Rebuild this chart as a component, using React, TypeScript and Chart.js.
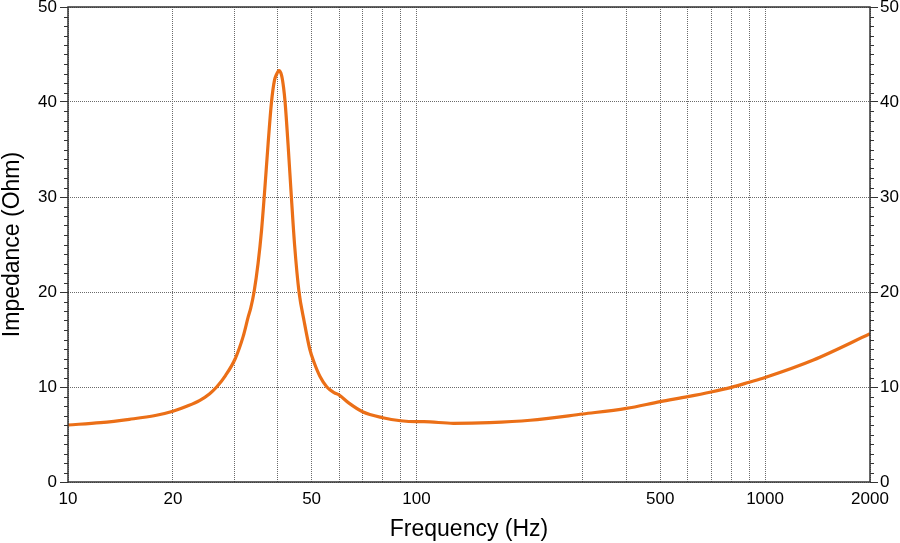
import React, { useEffect, useRef } from "react";
import { Chart, registerables } from "chart.js";

Chart.register(...registerables);

const frequencies = [
  10, 12.4, 15, 17.8, 20, 22, 23.9, 25.5, 26.7, 28.3, 30.2, 31.8, 32.9, 33.44, 34.18, 35.1, 35.92, 36.64,
  37.49, 38.36, 39.13, 39.65, 40.3, 41.0, 41.55, 41.96, 42.8, 43.74, 44.67, 46.01, 47.6, 49.38, 50.8, 52.85,
  55.3, 58, 60, 64, 70, 80, 90, 100, 105, 127.5, 162, 212, 300, 400, 500, 600, 700, 800, 900, 1000, 1376, 2000,
];
const impedance = [
  6.0, 6.25, 6.6, 7.0, 7.45, 8.0, 8.6, 9.3, 10.0, 11.2, 13.0, 15.3, 17.4, 18.3, 20.0, 23.0, 26.5, 30.5,
  35.5, 40.0, 42.3, 42.9, 43.3, 42.8, 41.5, 40.0, 35.5, 30.0, 25.0, 20.0, 16.9, 14.0, 12.6, 11.1,
  10.0, 9.4, 9.15, 8.3, 7.4, 6.77, 6.45, 6.35, 6.35, 6.18, 6.25, 6.5, 7.16, 7.75, 8.46, 8.98, 9.47, 9.96, 10.5,
  11.0, 12.84, 15.6,
];

const xGridValues = [10, 20, 30, 40, 50, 60, 70, 80, 90, 100, 300, 400, 500, 600, 700, 800, 900, 1000, 2000];
const xTickLabels = [10, 20, 50, 100, 500, 1000, 2000];
const yTickLabels = [0, 10, 20, 30, 40, 50];

const FONT = "'Liberation Sans', Arial, Helvetica, sans-serif";
const LINE_COLOR = "#eb6f17";
const AXIS_COLOR = "#333333";
const GRID_COLOR = "#6a6a6a";

const framePlugin = {
  id: "frameAndMinorTicks",
  afterDraw(chart: any) {
    const { ctx, chartArea: a } = chart;
    const y = chart.scales.y;
    ctx.save();
    ctx.strokeStyle = AXIS_COLOR;
    ctx.lineWidth = 1;
    for (let v = yTickLabels[0]; v <= yTickLabels[yTickLabels.length - 1]; v++) {
      if (yTickLabels.includes(v)) continue;
      const p = Math.round(y.getPixelForValue(v)) + 0.5;
      ctx.beginPath();
      ctx.moveTo(a.left - 4, p);
      ctx.lineTo(a.left, p);
      ctx.moveTo(a.right, p);
      ctx.lineTo(a.right + 4, p);
      ctx.stroke();
    }
    ctx.lineWidth = 1.5;
    ctx.strokeRect(a.left, a.top, a.right - a.left, a.bottom - a.top);
    ctx.restore();
  },
};

export default function App() {
  const canvasRef = useRef<HTMLCanvasElement | null>(null);

  useEffect(() => {
    document.body.style.margin = "0";
    const canvas = canvasRef.current;
    if (!canvas) return;
    const points = frequencies.map((f, i) => ({ x: f, y: impedance[i] }));

    const yCommon = {
      type: "linear" as const,
      min: 0,
      max: 50,
      border: { display: false, dash: [1, 1] },
      ticks: {
        stepSize: 10,
        color: "#000",
        font: { family: FONT, size: 17 },
        padding: 3,
        callback: (v: any) => (yTickLabels.includes(Number(v)) ? String(v) : ""),
      },
    };

    const chart = new Chart(canvas, {
      type: "line",
      data: {
        datasets: [
          {
            data: points,
            borderColor: LINE_COLOR,
            backgroundColor: LINE_COLOR,
            borderWidth: 3.2,
            pointRadius: 0,
            cubicInterpolationMode: "monotone",
            fill: false,
            yAxisID: "y",
          },
        ],
      },
      options: {
        animation: false,
        responsive: false,
        maintainAspectRatio: false,
        layout: { padding: { top: 7, left: 0, right: 0, bottom: 0 } },
        plugins: { legend: { display: false }, tooltip: { enabled: false } },
        scales: {
          x: {
            type: "logarithmic",
            min: 10,
            max: 2000,
            border: { display: false, dash: [1, 1] },
            grid: {
              color: GRID_COLOR,
              lineWidth: 1,
              drawTicks: false,
            },
            afterBuildTicks: (scale: any) => {
              scale.ticks = xGridValues.map((v) => ({ value: v }));
            },
            afterFit: (scale: any) => {
              scale.height = 61;
              scale.paddingLeft = 0;
              scale.paddingRight = 0;
            },
            ticks: {
              autoSkip: false,
              maxRotation: 0,
              minRotation: 0,
              color: "#000",
              font: { family: FONT, size: 17 },
              padding: 7,
              callback: (v: any) => (xTickLabels.includes(Number(v)) ? String(v) : ""),
            },
            title: {
              display: true,
              text: "Frequency (Hz)",
              color: "#000",
              font: { family: FONT, size: 23, lineHeight: 1.1 },
              padding: { top: 0, bottom: 1 },
            },
          },
          y: {
            ...yCommon,
            position: "left",
            grid: {
              color: GRID_COLOR,
              lineWidth: 1,
              drawTicks: true,
              tickLength: 8,
              tickColor: AXIS_COLOR,
            },
            afterFit: (scale: any) => {
              scale.width = 68;
              scale.paddingTop = 0;
              scale.paddingBottom = 0;
            },
            title: {
              display: true,
              text: "Impedance (Ohm)",
              color: "#000",
              font: { family: FONT, size: 23, lineHeight: 1.1 },
              padding: { top: 0, bottom: 0 },
            },
          },
          y2: {
            ...yCommon,
            position: "right",
            grid: {
              drawOnChartArea: false,
              color: GRID_COLOR,
              drawTicks: true,
              tickLength: 8,
              tickColor: AXIS_COLOR,
            },
            ticks: { ...yCommon.ticks, padding: 2 },
            afterFit: (scale: any) => {
              scale.width = 30;
              scale.paddingTop = 0;
              scale.paddingBottom = 0;
            },
          },
        },
      } as any,
      plugins: [framePlugin],
    });

    return () => chart.destroy();
  }, []);

  return (
    <div style={{ width: 900, height: 543 }}>
      <canvas ref={canvasRef} width={900} height={543} style={{ display: "block" }} />
    </div>
  );
}
